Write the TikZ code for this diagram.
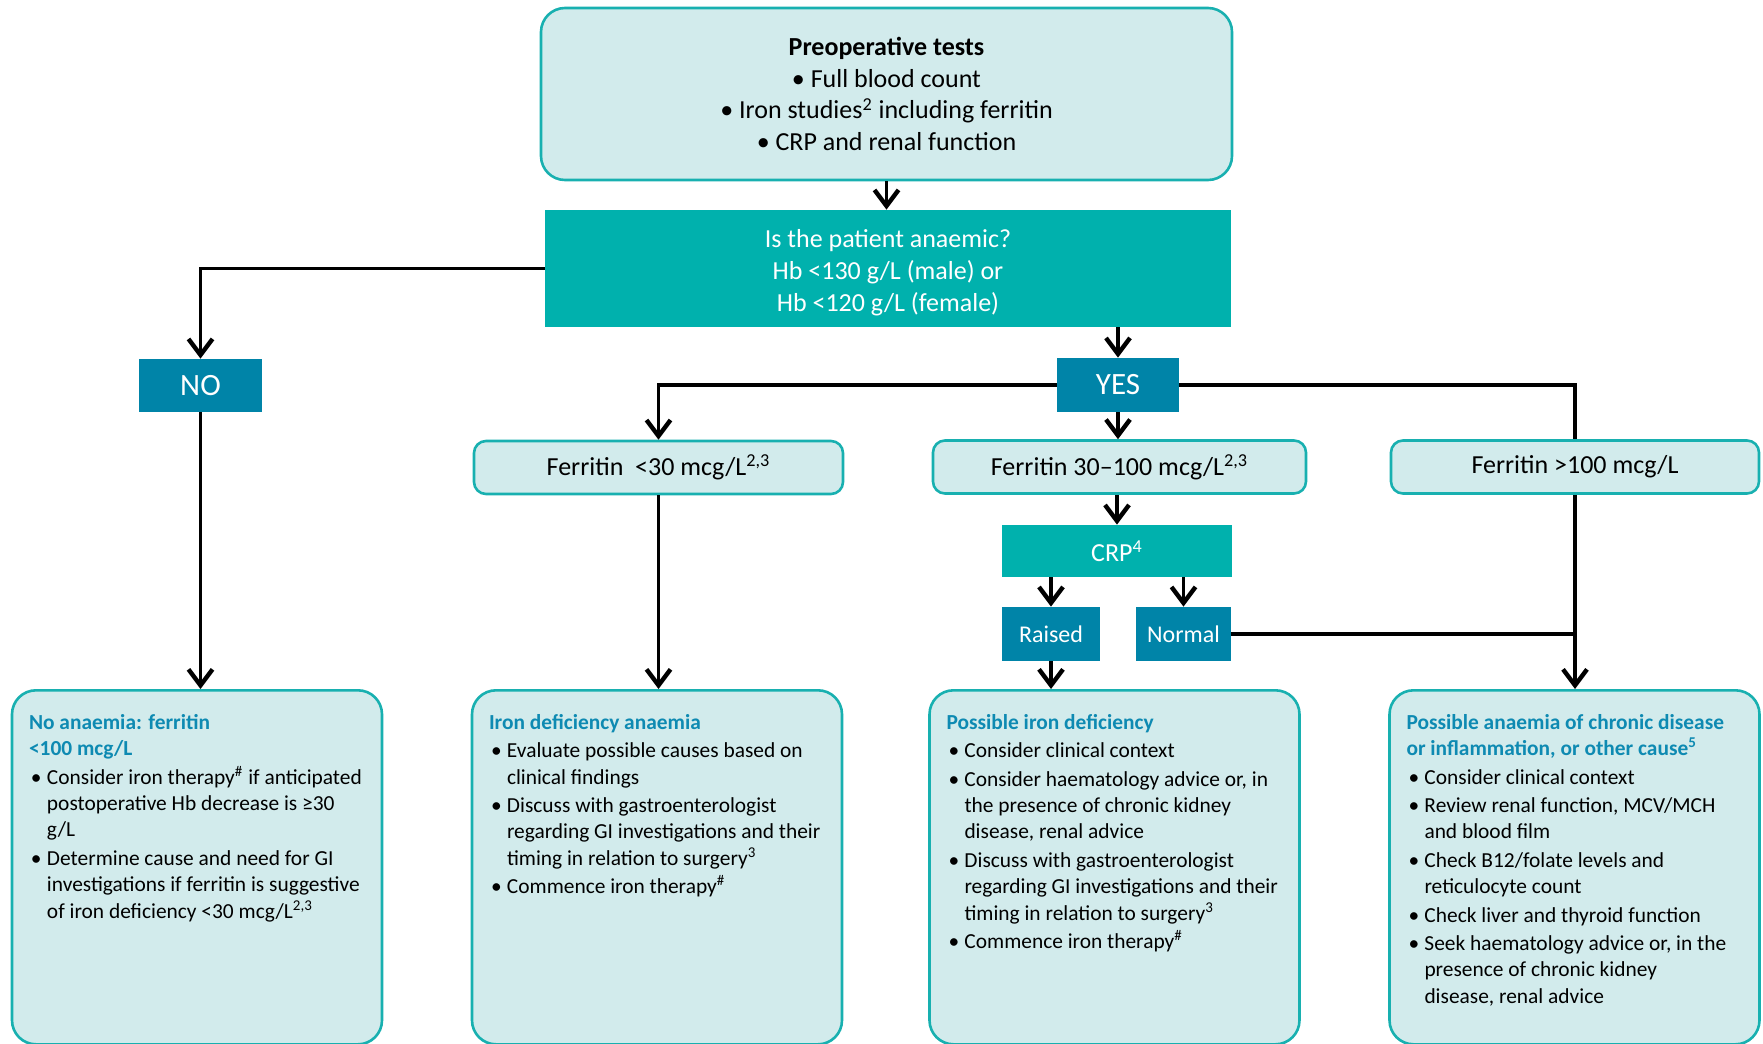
\documentclass[tikz,border=0pt]{standalone}
\usepackage{fontspec}
\setmainfont{Carlito}
\usetikzlibrary{arrows.meta}

\definecolor{lightbox}{RGB}{210,235,236}
\definecolor{rimteal}{RGB}{24,176,176}
\definecolor{darkteal}{RGB}{0,177,173}
\definecolor{choiceblue}{RGB}{0,132,168}
\definecolor{headblue}{RGB}{14,138,178}

\newcommand{\bul}{\par\hangindent=9pt\hangafter=1\noindent\makebox[9pt][l]{\hspace{1pt}\textbullet}}
\newcommand{\outhead}[1]{{\bfseries\color{headblue}#1}}
\newcommand{\outtext}[1]{\parbox[c][163pt][t]{168pt}{\vspace*{4pt}\raggedright\parindent=0pt\parskip=1pt #1}}

\begin{document}
\begin{tikzpicture}
        [x=0.5pt,y=-0.5pt,
         roundbox/.style={rectangle,rounded corners=6pt,draw=rimteal,line width=1.3pt,fill=lightbox},
         tealbox/.style={rectangle,fill=darkteal,text=white,font=\fontsize{13}{15.9}\selectfont},
         choice/.style={rectangle,fill=choiceblue,text=white,inner sep=0pt},
         outbox/.style={roundbox,rounded corners=12pt,anchor=north,inner xsep=8.5pt,inner ysep=7pt,font=\fontsize{10.7}{13.2}\selectfont},
         flow/.style={line width=1.8pt,-{Straight Barb[length=8pt,width=12pt,line width=2.2pt]}},
         plainline/.style={line width=1.8pt}]
        \fill[white] (0,0) rectangle (1763,1044);
        \useasboundingbox (0,0) rectangle (1763,1044);

        %Top
        \node[roundbox,rounded corners=12pt,minimum width=345.5pt,minimum height=86pt,align=center,
              font=\fontsize{13}{15.9}\selectfont] (tests) at (886.5,94)
              {\textbf{Preoperative tests}\\ \textbullet{} Full blood count\\
               \textbullet{} Iron studies\textsuperscript{2} including ferritin\\
               \textbullet{} CRP and renal function};
        \node[tealbox,minimum width=343pt,minimum height=58.5pt,align=center] (anaemic) at (888,268.5)
              {\rule{0pt}{13pt}Is the patient anaemic?\\Hb <130 g/L (male) or\\Hb <120 g/L (female)};

        %Answers
        \node[choice,minimum width=61.5pt,minimum height=26.5pt,font=\fontsize{15.5}{18}\selectfont] (no) at (200.5,385.5) {NO};
        \node[choice,minimum width=61pt,minimum height=27pt,font=\fontsize{15.5}{18}\selectfont] (yes) at (1118,385) {YES};

        %Ferritin
        \node[roundbox,minimum width=184.5pt,minimum height=26.5pt,font=\fontsize{13}{15}\selectfont] (ferlow) at (658.5,467.5)
              {Ferritin\ \ <30 mcg/L\textsuperscript{2,3}};
        \node[roundbox,minimum width=186.5pt,minimum height=26.5pt,font=\fontsize{13}{15}\selectfont] (fermid) at (1119.5,467)
              {Ferritin 30--100 mcg/L\textsuperscript{2,3}};
        \node[roundbox,minimum width=184pt,minimum height=26.5pt,font=\fontsize{13}{15}\selectfont] (ferhigh) at (1575,467)
              {Ferritin >100 mcg/L};

        %CRP
        \node[tealbox,minimum width=115pt,minimum height=26pt] (crp) at (1117,551) {CRP\textsuperscript{4}};
        \node[choice,minimum width=49pt,minimum height=27pt,font=\fontsize{12}{14}\selectfont] (raised) at (1051,634) {Raised};
        \node[choice,minimum width=47.5pt,minimum height=27pt,font=\fontsize{12}{14}\selectfont] (normal) at (1183.5,634) {Normal};

        %Outcomes
        \node[outbox] (noanaem) at (197,689) {\outtext{%
              \outhead{No anaemia: ferritin\newline <100 mcg/L}
              \bul Consider iron therapy\textsuperscript{\#} if anticipated\newline postoperative Hb decrease is ≥30\newline g/L
              \bul Determine cause and need for GI\newline investigations if ferritin is suggestive\newline of iron deficiency <30 mcg/L\textsuperscript{2,3}}};
        \node[outbox] (idanaem) at (657,689) {\outtext{%
              \outhead{Iron deficiency anaemia}
              \bul Evaluate possible causes based on\newline clinical findings
              \bul Discuss with gastroenterologist\newline regarding GI investigations and their\newline timing in relation to surgery\textsuperscript{3}
              \bul Commence iron therapy\textsuperscript{\#}}};
        \node[outbox] (possid) at (1114.5,689) {\outtext{%
              \outhead{Possible iron deficiency}
              \bul Consider clinical context
              \bul Consider haematology advice or, in\newline the presence of chronic kidney\newline disease, renal advice
              \bul Discuss with gastroenterologist\newline regarding GI investigations and their\newline timing in relation to surgery\textsuperscript{3}
              \bul Commence iron therapy\textsuperscript{\#}}};
        \node[outbox] (chronic) at (1574.5,689) {\outtext{%
              \outhead{Possible anaemia of chronic disease\newline or inflammation, or other cause\textsuperscript{5}}
              \bul Consider clinical context
              \bul Review renal function, MCV/MCH\newline and blood film
              \bul Check B12/folate levels and\newline reticulocyte count
              \bul Check liver and thyroid function
              \bul Seek haematology advice or, in the\newline presence of chronic kidney\newline disease, renal advice}};

        %Connectors
        \draw[flow] (tests.south) -- (tests.south |- anaemic.north);
        \draw[flow] (anaemic.west) -| (no.north);
        \draw[flow] (anaemic.south -| yes.north) -- (yes.north);
        \draw[flow] (yes.west) -| (ferlow.north);
        \draw[plainline] (yes.east) -| (ferhigh.north);
        \draw[flow] (yes.south) -- (yes.south |- fermid.north);
        \draw[flow] (crp.north |- fermid.south) -- (crp.north);
        \draw[flow] (crp.south -| raised.north) -- (raised.north);
        \draw[flow] (crp.south -| normal.north) -- (normal.north);
        \draw[flow] (raised.south) -- (raised.south |- possid.north);
        \draw[plainline] (normal.east) -- (normal.east -| ferhigh.south);
        \draw[flow] (ferhigh.south) -- (ferhigh.south |- chronic.north);
        \draw[flow] (no.south) -- (no.south |- noanaem.north);
        \draw[flow] (ferlow.south) -- (ferlow.south |- idanaem.north);
\end{tikzpicture}
\end{document}
